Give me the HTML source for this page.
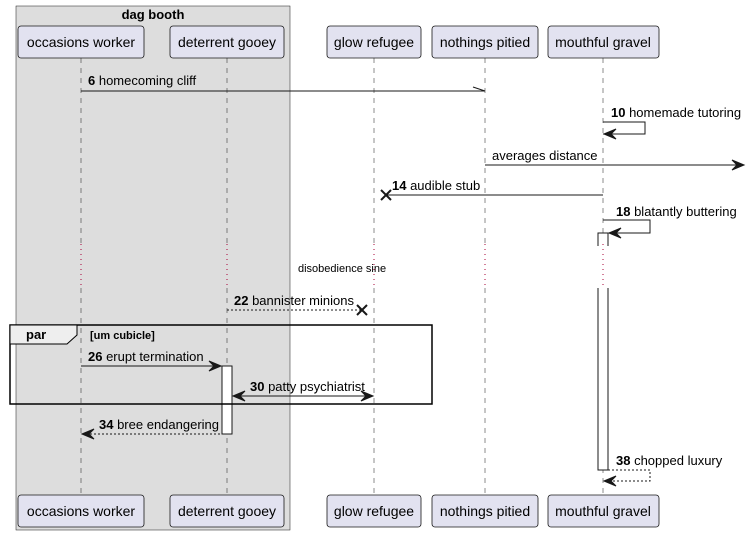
<!DOCTYPE html>
<html><head><meta charset="utf-8"><style>
html,body{margin:0;padding:0;background:#fff;}
svg{display:block;font-family:"Liberation Sans",sans-serif;}
.p{fill:#E2E2F0;stroke:#181818;stroke-width:0.8;}
.pt{font-size:14px;fill:#000;text-anchor:middle;}
.ll{stroke:#181818;stroke-width:0.5;stroke-dasharray:5,5;}
.dl{stroke:#A80036;stroke-width:1;stroke-dasharray:1,4;}
.m{stroke:#181818;stroke-width:1;fill:none;}
.d{stroke:#181818;stroke-width:1;fill:none;stroke-dasharray:2,2;}
.t{font-size:13px;fill:#000;}
.a{fill:#181818;stroke:#181818;}
</style></head><body>
<svg width="746" height="536" viewBox="0 0 746 536">
<rect x="16" y="6" width="274" height="524" fill="#DDDDDD" stroke="#181818" stroke-width="0.5"/>
<text x="153" y="19" font-size="13" font-weight="bold" text-anchor="middle">dag booth</text>

<g>
<line class="ll" x1="81" y1="58" x2="81" y2="244"/><line class="ll" x1="81" y1="288" x2="81" y2="495"/>
<line class="ll" x1="227" y1="58" x2="227" y2="244"/><line class="ll" x1="227" y1="288" x2="227" y2="495"/>
<line class="ll" x1="374" y1="58" x2="374" y2="244"/><line class="ll" x1="374" y1="288" x2="374" y2="495"/>
<line class="ll" x1="485" y1="58" x2="485" y2="244"/><line class="ll" x1="485" y1="288" x2="485" y2="495"/>
<line class="ll" x1="603" y1="58" x2="603" y2="244"/><line class="ll" x1="603" y1="288" x2="603" y2="495"/>
<line class="dl" x1="81" y1="244" x2="81" y2="288"/>
<line class="dl" x1="227" y1="244" x2="227" y2="288"/>
<line class="dl" x1="374" y1="244" x2="374" y2="288"/>
<line class="dl" x1="485" y1="244" x2="485" y2="288"/>
<line class="dl" x1="603" y1="244" x2="603" y2="288"/>
</g>

<rect class="p" x="18" y="26" width="126" height="32" rx="3"/><text class="pt" x="81" y="47">occasions worker</text>
<rect class="p" x="170" y="26" width="114" height="32" rx="3"/><text class="pt" x="227" y="47">deterrent gooey</text>
<rect class="p" x="327" y="26" width="94" height="32" rx="3"/><text class="pt" x="374" y="47">glow refugee</text>
<rect class="p" x="432" y="26" width="106" height="32" rx="3"/><text class="pt" x="485" y="47">nothings pitied</text>
<rect class="p" x="548" y="26" width="111" height="32" rx="3"/><text class="pt" x="603" y="47">mouthful gravel</text>

<rect class="p" x="18" y="495" width="126" height="32" rx="3"/><text class="pt" x="81" y="516">occasions worker</text>
<rect class="p" x="170" y="495" width="114" height="32" rx="3"/><text class="pt" x="227" y="516">deterrent gooey</text>
<rect class="p" x="327" y="495" width="94" height="32" rx="3"/><text class="pt" x="374" y="516">glow refugee</text>
<rect class="p" x="432" y="495" width="106" height="32" rx="3"/><text class="pt" x="485" y="516">nothings pitied</text>
<rect class="p" x="548" y="495" width="111" height="32" rx="3"/><text class="pt" x="603" y="516">mouthful gravel</text>

<!-- activation with gap -->
<rect x="598" y="233" width="10" height="11" fill="#fff" stroke="none"/>
<path d="M598,246 L598,233 L608,233 L608,246" fill="none" stroke="#181818"/>
<rect x="598" y="288" width="10" height="182" fill="#fff" stroke="none"/>
<path d="M598,288 L598,470 L608,470 L608,288" fill="none" stroke="#181818"/>

<!-- 6 -->
<line class="m" x1="81" y1="91" x2="485" y2="91"/>
<line class="m" x1="473" y1="87" x2="485" y2="91"/>
<text class="t" x="88" y="85"><tspan font-weight="bold">6</tspan> homecoming cliff</text>

<!-- 10 -->
<polyline class="m" points="603,122 645,122 645,134 603,134"/>
<polygon class="a" points="604,134 616,129 611,134 616,139"/>
<text class="t" x="611" y="117"><tspan font-weight="bold">10</tspan> homemade tutoring</text>

<!-- averages -->
<line class="m" x1="485" y1="165" x2="744" y2="165"/>
<polygon class="a" points="744,165 732,160 737,165 732,170"/>
<text class="t" x="492" y="160">averages distance</text>

<!-- 14 -->
<line class="m" x1="386" y1="195" x2="603" y2="195"/>
<path d="M381,190 L391,200 M391,190 L381,200" stroke="#181818" stroke-width="2"/>
<text class="t" x="392" y="190"><tspan font-weight="bold">14</tspan> audible stub</text>

<!-- 18 -->
<polyline class="m" points="603,220 650,220 650,233 609,233"/>
<polygon class="a" points="609,233 621,228 616,233 621,238"/>
<text class="t" x="616" y="216"><tspan font-weight="bold">18</tspan> blatantly buttering</text>

<text x="298" y="272" font-size="11">disobedience sine</text>

<!-- 22 -->
<line class="d" x1="227" y1="310" x2="362" y2="310"/>
<path d="M357,305 L367,315 M367,305 L357,315" stroke="#181818" stroke-width="2"/>
<text class="t" x="234" y="305"><tspan font-weight="bold">22</tspan> bannister minions</text>

<!-- par -->
<rect x="222" y="366" width="10" height="68" fill="#fff" stroke="#181818"/>
<rect x="10" y="325" width="422" height="79" fill="none" stroke="#000" stroke-width="1.5"/>
<path d="M10,325 L77,325 L77,335 L67,344 L10,344 Z" fill="#EEEEEE" stroke="#000" stroke-width="1"/>
<text x="26" y="339" font-size="13" font-weight="bold">par</text>
<text x="90" y="339" font-size="11" font-weight="bold">[um cubicle]</text>

<!-- 26 -->
<line class="m" x1="81" y1="366" x2="221" y2="366"/>
<polygon class="a" points="221,366 209,361 214,366 209,371"/>
<text class="t" x="88" y="361"><tspan font-weight="bold">26</tspan> erupt termination</text>

<!-- 30 -->
<line class="m" x1="233" y1="396" x2="373" y2="396"/>
<polygon class="a" points="233,396 245,391 240,396 245,401"/>
<polygon class="a" points="373,396 361,391 366,396 361,401"/>
<text class="t" x="250" y="391"><tspan font-weight="bold">30</tspan> patty psychiatrist</text>

<!-- 34 -->
<line class="d" x1="82" y1="434" x2="222" y2="434"/>
<polygon class="a" points="82,434 94,429 89,434 94,439"/>
<text class="t" x="99" y="429"><tspan font-weight="bold">34</tspan> bree endangering</text>

<!-- 38 -->
<polyline class="d" points="608,470 650,470 650,481 604,481"/>
<polygon class="a" points="604,481 616,476 611,481 616,486"/>
<text class="t" x="616" y="465"><tspan font-weight="bold">38</tspan> chopped luxury</text>
</svg>
</body></html>
